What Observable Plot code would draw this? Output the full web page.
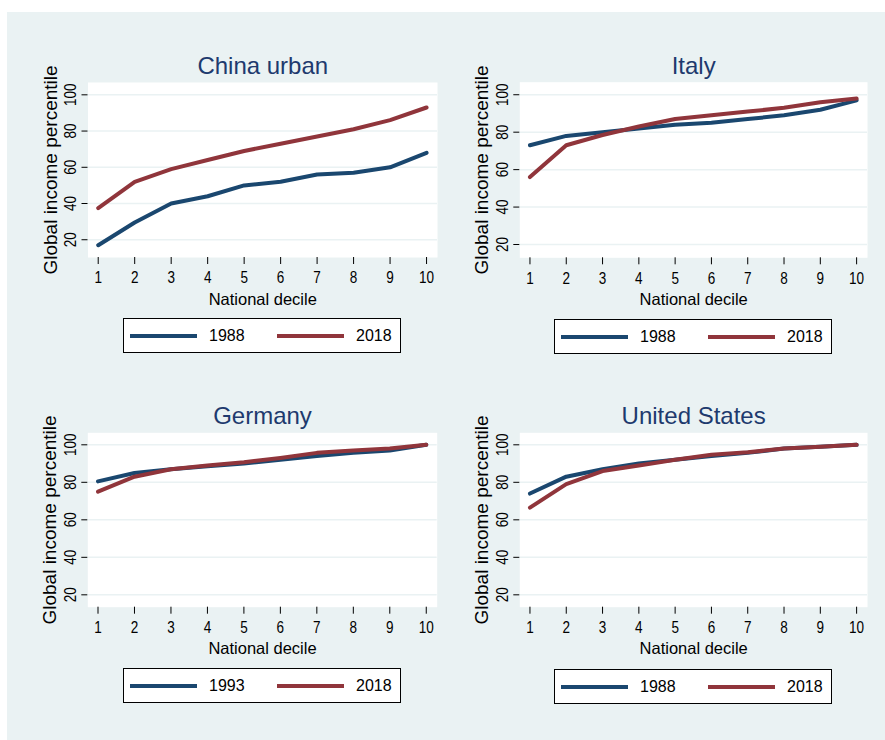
<!DOCTYPE html>
<html><head><meta charset="utf-8">
<script src="https://cdn.jsdelivr.net/npm/d3@7"></script>
<script src="https://cdn.jsdelivr.net/npm/@observablehq/plot@0.6"></script>
<style>
body{margin:0;background:#fff;width:885px;height:740px;overflow:hidden;font-family:"Liberation Sans",Arial,sans-serif;position:relative;}
#bg{position:absolute;left:7px;top:12px;width:878px;height:728px;background:#eaf2f3;}
.panel{position:absolute;width:415px;height:270px;}
.panel svg{max-width:none;}
.legend{position:absolute;background:#fff;border:1px solid #000;box-sizing:border-box;width:278px;height:35px;}
.sw{position:absolute;height:4px;width:67px;top:15px;}
.lt{position:absolute;font-size:16px;top:0;line-height:33px;color:#000;}
</style></head>
<body>
<div id="bg"></div>
<script>
const deciles = [1,2,3,4,5,6,7,8,9,10];
const yTicks = [20,40,60,80,100];
const seriesColors = ["#1a476f","#90353b"];

const chinaYears = ["1988","2018"];
const chinaUrban1988 = [17,29.5,40,44,50,52,56,57,60,68];
const chinaUrban2018 = [37.5,52,59,64,69,73,77,81,86,93];

const italyYears = ["1988","2018"];
const italy1988 = [73,78,80,82,84,85,87,89,92,97];
const italy2018 = [56,73,78.5,83,87,89,91,93,96,98];

const germanyYears = ["1993","2018"];
const germany1993 = [80.5,85,87,88.5,90,92,94,95.7,97,100];
const germany2018 = [75,83,87,89,90.7,93,95.7,97,98,100];

const usYears = ["1988","2018"];
const us1988 = [74,83,87,90,92,94,95.7,98,99,100];
const us2018 = [66.5,79,86,89,92,94.7,96,98,99,100];

const panels = [
  {title:"China urban", years:chinaYears, series:[chinaUrban1988, chinaUrban2018], yDomain:[10.2,106.8],
   left:30, top:40, ml:57.5, mr:8, mt:42, mb:53, tdy:-8.7, legend:{left:123, top:318}},
  {title:"Italy", years:italyYears, series:[italy1988, italy2018], yDomain:[12.9,106.7],
   left:460, top:40, ml:59.3, mr:8, mt:41.7, mb:52.7, tdy:-8.4, legend:{left:554, top:319}},
  {title:"Germany", years:germanyYears, series:[germany1993, germany2018], yDomain:[13.4,106.4],
   left:30, top:390, ml:57.3, mr:8.3, mt:42.3, mb:53.3, tdy:-9, legend:{left:123, top:668}},
  {title:"United States", years:usYears, series:[us1988, us2018], yDomain:[13.4,106.4],
   left:460, top:390, ml:59.3, mr:8, mt:42.3, mb:53.3, tdy:-9, legend:{left:554, top:669}}
];

for (const p of panels) {
  const rows = [];
  p.series.forEach((vals, si) => vals.forEach((v, i) => rows.push({decile: deciles[i], value: v, year: p.years[si]})));
  const chart = Plot.plot({
    width: 415, height: 270,
    marginLeft: p.ml, marginRight: p.mr, marginTop: p.mt, marginBottom: p.mb,
    style: {background: "transparent", fontFamily: '"Liberation Sans", Arial, sans-serif', fontSize: "16px", color: "#000", overflow: "visible"},
    x: {domain: [0.72, 10.3]},
    y: {domain: p.yDomain},
    color: {domain: p.years, range: seriesColors},
    marks: [
      Plot.frame({fill: "#fff", stroke: null}),
      Plot.ruleY(yTicks, {stroke: "#eaf2f3", strokeWidth: 1.5}),
      Plot.axisX({ticks: deciles, tickSize: 7, tickPadding: 7, line: true, label: null, fontSize: 16.5}),
      Plot.axisY({ticks: yTicks, tickSize: 6, tickPadding: 6, tickRotate: -90, line: true, label: null, fontSize: 16.5}),
      Plot.line(rows, {x: "decile", y: "value", z: "year", stroke: "year", strokeWidth: 4, strokeLinejoin: "round"}),
      Plot.text([p.title], {text: d => d, frameAnchor: "top", dy: p.tdy, textAnchor: "middle", lineAnchor: "bottom", fontSize: 24, fill: "#1e3a6e"}),
      Plot.text(["Global income percentile"], {text: d => d, frameAnchor: "left", rotate: -90, dx: -31.5, textAnchor: "middle", lineAnchor: "bottom", fontSize: 19, fill: "#000"}),
      Plot.text(["National decile"], {text: d => d, frameAnchor: "bottom", dy: 47, textAnchor: "middle", lineAnchor: "bottom", fontSize: 16.5, fill: "#000"})
    ]
  });
  const div = document.createElement("div");
  div.className = "panel";
  div.style.left = p.left + "px";
  div.style.top = p.top + "px";
  div.appendChild(chart);
  document.body.appendChild(div);

  // tick labels: narrow, tall digits as in the reference
  d3.select(chart).selectAll("text")
    .filter(function() { return /^\d+$/.test(this.textContent.trim()); })
    .each(function() {
      this.style.fontSize = "16.5px";
      const len = this.getComputedTextLength();
      if (len > 0) {
        this.setAttribute("textLength", (len * 0.82).toFixed(2));
        this.setAttribute("lengthAdjust", "spacingAndGlyphs");
      }
    });

  const lg = document.createElement("div");
  lg.className = "legend";
  lg.style.left = p.legend.left + "px";
  lg.style.top = p.legend.top + "px";
  const swLeft = [6, 153], txtLeft = [85, 232];
  p.years.forEach((y, i) => {
    const sw = document.createElement("div");
    sw.className = "sw"; sw.style.left = swLeft[i] + "px"; sw.style.background = seriesColors[i];
    const t = document.createElement("div");
    t.className = "lt"; t.style.left = txtLeft[i] + "px"; t.textContent = y;
    lg.appendChild(sw); lg.appendChild(t);
  });
  document.body.appendChild(lg);
}
</script>
</body></html>
